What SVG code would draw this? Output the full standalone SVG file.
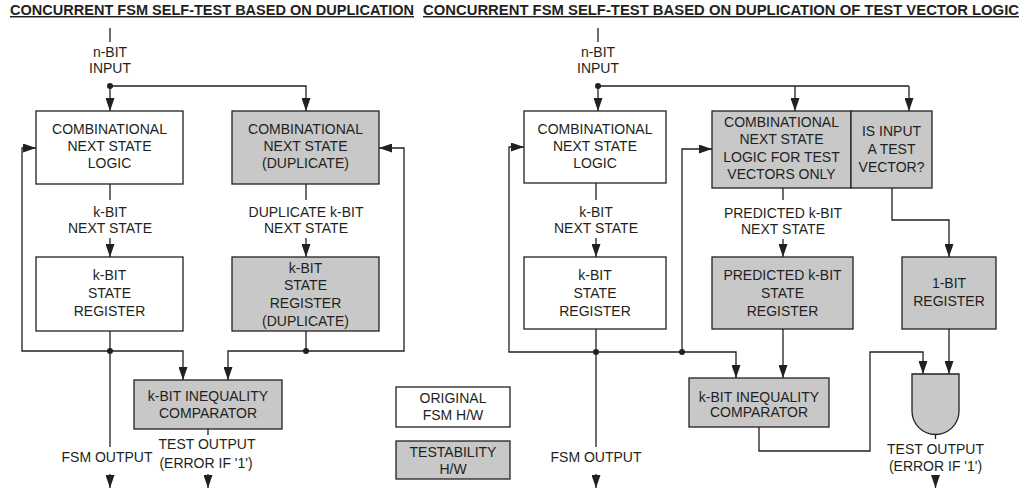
<svg xmlns="http://www.w3.org/2000/svg" width="1025" height="490" viewBox="0 0 1025 490">
<style>
text{font-family:"Liberation Sans",Arial,sans-serif;font-size:14px;fill:#231f20;text-anchor:middle}
.title{font-weight:bold;font-size:14.5px;text-anchor:start;text-decoration:underline}
.w{fill:#fff;stroke:#231f20;stroke-width:1.3}
.g{fill:#c8c8c8;stroke:#231f20;stroke-width:1.3}
.ln{fill:none;stroke:#231f20;stroke-width:1.3}
.ar{fill:none;stroke:#231f20;stroke-width:1.3;marker-end:url(#ah)}
.dot{fill:#231f20}
</style>
<defs>
<marker id="ah" markerWidth="13" markerHeight="9" refX="13" refY="4.5" orient="auto" markerUnits="userSpaceOnUse">
<path d="M0,0 L13,4.5 L0,9 z" fill="#231f20"/>
</marker>
</defs>
<text class="title" x="10" y="15" textLength="404" lengthAdjust="spacingAndGlyphs">CONCURRENT FSM SELF-TEST BASED ON DUPLICATION</text>
<text class="title" x="423" y="15" textLength="596" lengthAdjust="spacingAndGlyphs">CONCURRENT FSM SELF-TEST BASED ON DUPLICATION OF TEST VECTOR LOGIC</text>

<g id="connectors">
<!-- left diagram -->
<line class="ln" x1="110" y1="28" x2="110" y2="42"/>
<line class="ar" x1="110" y1="86" x2="110" y2="111"/>
<polyline class="ar" points="110,86 306,86 306,111"/>
<line class="ln" x1="110" y1="184" x2="110" y2="200"/>
<line class="ar" x1="110" y1="238" x2="110" y2="257"/>
<line class="ln" x1="306" y1="184" x2="306" y2="200"/>
<line class="ar" x1="306" y1="238" x2="306" y2="257"/>
<polyline class="ar" points="110,351 22,351 22,148 36,148"/>
<polyline class="ar" points="306,351 404,351 404,148 379,148"/>
<polyline class="ar" points="110,351 183,351 183,380"/>
<polyline class="ar" points="306,331 306,351 228,351 228,380"/>
<line class="ln" x1="110" y1="331" x2="110" y2="447"/>
<line class="ar" x1="110" y1="474" x2="110" y2="488"/>
<line class="ln" x1="208" y1="429" x2="208" y2="435"/>
<line class="ar" x1="208" y1="474" x2="208" y2="488"/>
<circle class="dot" cx="110" cy="86" r="3"/>
<circle class="dot" cx="110" cy="351" r="3"/>
<circle class="dot" cx="306" cy="351" r="3"/>
<!-- right diagram -->
<line class="ln" x1="598" y1="28" x2="598" y2="42"/>
<line class="ar" x1="598" y1="86" x2="598" y2="111"/>
<line class="ln" x1="598" y1="86" x2="909" y2="86"/>
<line class="ar" x1="795" y1="86" x2="795" y2="111"/>
<line class="ar" x1="909" y1="86" x2="909" y2="111"/>
<polyline class="ar" points="596,352 509,352 509,147 524,147"/>
<polyline class="ar" points="682,352 682,149 712,149"/>
<line class="ln" x1="596" y1="183" x2="596" y2="200"/>
<line class="ar" x1="596" y1="238" x2="596" y2="257"/>
<line class="ln" x1="783" y1="188" x2="783" y2="200"/>
<line class="ar" x1="783" y1="239" x2="783" y2="257"/>
<polyline class="ar" points="892,188 892,220 949,220 949,257"/>
<polyline class="ar" points="596,352 736,352 736,378"/>
<line class="ln" x1="596" y1="329" x2="596" y2="447"/>
<line class="ar" x1="596" y1="474" x2="596" y2="488"/>
<line class="ar" x1="783" y1="329" x2="783" y2="378"/>
<polyline class="ar" points="759,427 759,451 870,451 870,352 923,352 923,374"/>
<line class="ar" x1="949" y1="329" x2="949" y2="374"/>
<line class="ln" x1="935.5" y1="434" x2="935.5" y2="439"/>
<line class="ar" x1="935.5" y1="475" x2="935.5" y2="488"/>
<circle class="dot" cx="598" cy="86" r="3"/>
<circle class="dot" cx="596" cy="352" r="3"/>
<circle class="dot" cx="682" cy="352" r="3"/>
</g>

<!-- left labels -->
<text x="110" y="57">n-BIT</text>
<text x="110" y="73">INPUT</text>
<text x="110" y="217">k-BIT</text>
<text x="110" y="233">NEXT STATE</text>
<text x="306" y="217">DUPLICATE k-BIT</text>
<text x="306" y="233">NEXT STATE</text>
<text x="107" y="462">FSM OUTPUT</text>
<text x="207" y="449">TEST OUTPUT</text>
<text x="206" y="468">(ERROR IF '1')</text>

<g id="L1"><rect class="w" x="36" y="111" width="147" height="73"/>
<text x="109.5" y="134">COMBINATIONAL</text><text x="109.5" y="151">NEXT STATE</text><text x="109.5" y="168">LOGIC</text></g>
<g id="L2"><rect class="g" x="232" y="111" width="147" height="73"/>
<text x="305.5" y="134">COMBINATIONAL</text><text x="305.5" y="151">NEXT STATE</text><text x="305.5" y="168">(DUPLICATE)</text></g>
<g id="L3"><rect class="w" x="36" y="257" width="147" height="74"/>
<text x="109.5" y="280">k-BIT</text><text x="109.5" y="298">STATE</text><text x="109.5" y="316">REGISTER</text></g>
<g id="L4"><rect class="g" x="232" y="257" width="147" height="74"/>
<text x="305.5" y="273">k-BIT</text><text x="305.5" y="290">STATE</text><text x="305.5" y="308">REGISTER</text><text x="305.5" y="326">(DUPLICATE)</text></g>
<g id="L5"><rect class="g" x="134" y="380" width="148" height="49"/>
<text x="208" y="401">k-BIT INEQUALITY</text><text x="208" y="418">COMPARATOR</text></g>

<g id="legend1"><rect class="w" x="396" y="387" width="114" height="40"/>
<text x="453" y="403">ORIGINAL</text><text x="453" y="420">FSM H/W</text></g>
<g id="legend2"><rect class="g" x="396" y="441" width="114" height="38"/>
<text x="453" y="457">TESTABILITY</text><text x="453" y="474">H/W</text></g>

<!-- right labels -->
<text x="598" y="57">n-BIT</text>
<text x="598" y="73">INPUT</text>
<text x="596" y="217">k-BIT</text>
<text x="596" y="233">NEXT STATE</text>
<text x="783" y="218">PREDICTED k-BIT</text>
<text x="783" y="234">NEXT STATE</text>
<text x="596" y="462">FSM OUTPUT</text>
<text x="935.5" y="454">TEST OUTPUT</text>
<text x="935.5" y="471">(ERROR IF '1')</text>

<g id="R1"><rect class="w" x="524" y="111" width="142" height="72"/>
<text x="595" y="134">COMBINATIONAL</text><text x="595" y="151">NEXT STATE</text><text x="595" y="168">LOGIC</text></g>
<g id="R2"><rect class="g" x="712" y="111" width="139" height="77"/>
<text x="781.5" y="127">COMBINATIONAL</text><text x="781.5" y="144">NEXT STATE</text><text x="781.5" y="162">LOGIC FOR TEST</text><text x="781.5" y="179">VECTORS ONLY</text></g>
<g id="R3"><rect class="g" x="851" y="111" width="81" height="77"/>
<text x="891.5" y="136">IS INPUT</text><text x="891.5" y="154">A TEST</text><text x="891.5" y="172">VECTOR?</text></g>
<g id="R4"><rect class="w" x="524" y="257" width="142" height="72"/>
<text x="595" y="280">k-BIT</text><text x="595" y="298">STATE</text><text x="595" y="316">REGISTER</text></g>
<g id="R5"><rect class="g" x="712" y="257" width="141" height="72"/>
<text x="782.5" y="280">PREDICTED k-BIT</text><text x="782.5" y="298">STATE</text><text x="782.5" y="316">REGISTER</text></g>
<g id="R6"><rect class="g" x="902" y="257" width="94" height="72"/>
<text x="949" y="288">1-BIT</text><text x="949" y="306">REGISTER</text></g>
<g id="R7"><rect class="g" x="689" y="378" width="140" height="49"/>
<text x="759" y="402">k-BIT INEQUALITY</text><text x="759" y="417">COMPARATOR</text></g>
<g id="R8"><path class="g" d="M912,374 H959 V411 A23.5,23.5 0 0 1 912,411 Z"/></g>
</svg>
